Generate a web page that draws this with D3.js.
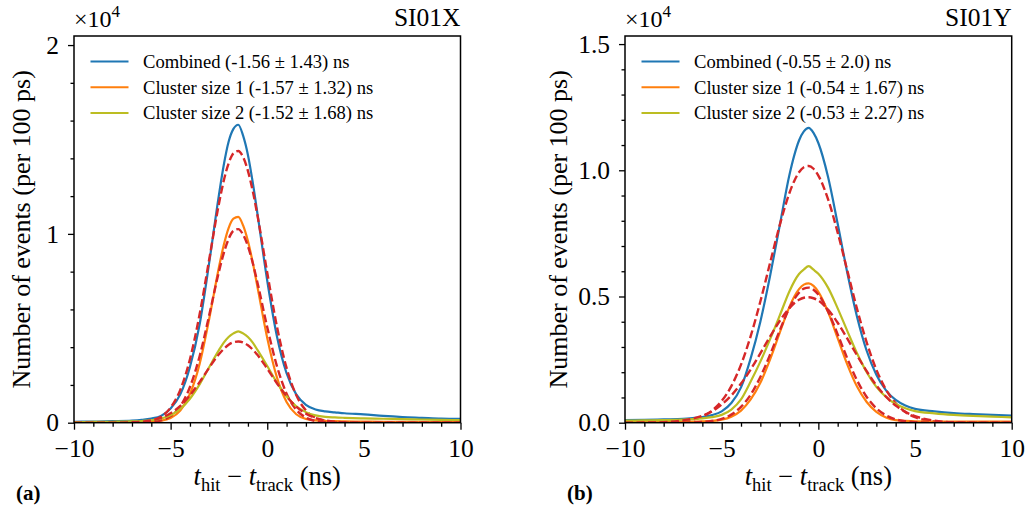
<!DOCTYPE html>
<html><head><meta charset="utf-8">
<script src="https://cdn.jsdelivr.net/npm/d3@7"></script>
<style>
html,body{margin:0;padding:0;background:#fff;}
svg{display:block;font-family:"Liberation Serif","Times New Roman",serif;}
</style></head><body>
<svg id="chart" width="1035" height="512"></svg>
<script>
// ---------- SI01X (panel a) ----------
const timeX = [-10,-9,-8,-7,-6.5,-6,-5.5,-5,-4.5,-4,
  -3.5,-3,-2.5,-2.25,-2,-1.75,-1.5,-1.25,-1,-0.75,
  -0.5,0,0.5,1,1.5,2,2.5,3,3.5,4,
  5,6,7,8,9,10];
const combinedX = [0.005,0.006,0.008,0.011,0.015,0.022,0.036,0.075,0.150,0.295,
  0.520,0.850,1.207,1.365,1.488,1.556,1.578,1.520,1.418,1.272,
  1.102,0.752,0.458,0.262,0.150,0.095,0.070,0.060,0.055,0.050,
  0.044,0.036,0.030,0.026,0.022,0.020];
const cluster1X = [0.002,0.002,0.003,0.004,0.005,0.007,0.011,0.025,0.064,0.152,
  0.311,0.552,0.823,0.941,1.031,1.081,1.090,1.045,0.962,0.848,
  0.716,0.448,0.240,0.110,0.045,0.020,0.012,0.009,0.008,0.007,
  0.006,0.005,0.005,0.004,0.004,0.004];
const cluster2X = [0.003,0.004,0.005,0.007,0.009,0.013,0.022,0.040,0.073,0.127,
  0.203,0.295,0.384,0.424,0.454,0.473,0.484,0.473,0.454,0.424,
  0.384,0.300,0.212,0.140,0.087,0.056,0.039,0.031,0.028,0.026,
  0.023,0.021,0.019,0.017,0.015,0.014];
const fitCombinedX = [0,0,0,0.001,0.004,0.012,0.032,0.080,0.174,0.336,
  0.574,0.867,1.160,1.282,1.373,1.427,1.439,1.407,1.334,1.227,
  1.094,0.794,0.510,0.290,0.146,0.065,0.026,0.009,0.003,0.001,
  0,0,0,0,0,0];
const fitCluster1X = [0,0,0,0,0.001,0.004,0.012,0.035,0.087,0.189,
  0.352,0.571,0.800,0.898,0.973,1.016,1.025,0.996,0.935,0.846,
  0.739,0.506,0.300,0.154,0.069,0.027,0.009,0.003,0.001,0,
  0,0,0,0,0,0];
const fitCluster2X = [0,0,0,0.002,0.005,0.012,0.026,0.050,0.089,0.145,
  0.215,0.292,0.363,0.391,0.413,0.426,0.430,0.425,0.410,0.387,
  0.358,0.286,0.209,0.140,0.085,0.048,0.025,0.012,0.005,0.002,
  0,0,0,0,0,0];
const legendX = ["Combined (-1.56 \u00b1 1.43) ns","Cluster size 1 (-1.57 \u00b1 1.32) ns","Cluster size 2 (-1.52 \u00b1 1.68) ns"];
const yTicksX = [0,1,2];
const yTickLabelsX = ["0","1","2"];
const yMinorX = [0.2,0.4,0.6,0.8,1.2,1.4,1.6,1.8];

// ---------- SI01Y (panel b) ----------
const timeY = [-10,-9,-8,-7,-6.5,-6,-5.5,-5,-4.5,-4,
  -3.5,-3,-2.5,-2,-1.5,-1.25,-1,-0.75,-0.5,-0.25,
  0,0.5,1,1.5,2,2.5,3,3.5,4,4.5,
  5,6,7,8,9,10];
const combinedY = [0.010,0.011,0.013,0.015,0.018,0.022,0.030,0.045,0.078,0.140,
  0.255,0.400,0.580,0.780,0.980,1.058,1.118,1.154,1.168,1.148,
  1.108,0.974,0.788,0.593,0.420,0.285,0.190,0.128,0.090,0.068,
  0.055,0.045,0.038,0.034,0.031,0.028];
const cluster1Y = [0.002,0.002,0.003,0.003,0.004,0.005,0.007,0.012,0.024,0.048,
  0.092,0.158,0.250,0.356,0.458,0.499,0.529,0.547,0.552,0.542,
  0.518,0.439,0.335,0.230,0.143,0.082,0.043,0.021,0.010,0.007,
  0.005,0.004,0.004,0.004,0.004,0.004];
const cluster2Y = [0.008,0.009,0.010,0.012,0.014,0.017,0.022,0.031,0.052,0.092,
  0.163,0.242,0.330,0.424,0.520,0.559,0.589,0.607,0.620,0.606,
  0.590,0.535,0.453,0.363,0.275,0.200,0.142,0.102,0.074,0.057,
  0.046,0.037,0.031,0.027,0.024,0.021];
const fitCombinedY = [0,0,0.001,0.006,0.012,0.025,0.048,0.086,0.145,0.230,
  0.343,0.480,0.632,0.782,0.909,0.957,0.992,1.012,1.017,1.006,
  0.979,0.886,0.753,0.602,0.451,0.318,0.210,0.131,0.077,0.042,
  0.022,0.005,0.001,0,0,0];
const fitCluster1Y = [0,0,0,0,0.001,0.003,0.007,0.015,0.032,0.063,
  0.111,0.181,0.269,0.365,0.454,0.489,0.515,0.531,0.535,0.527,
  0.508,0.441,0.350,0.254,0.168,0.102,0.057,0.029,0.013,0.006,
  0.002,0,0,0,0,0];
const fitCluster2Y = [0,0.0005,0.002,0.009,0.016,0.027,0.045,0.072,0.108,0.155,
  0.211,0.275,0.341,0.403,0.454,0.473,0.487,0.495,0.497,0.493,
  0.484,0.448,0.396,0.333,0.267,0.204,0.148,0.103,0.068,0.043,
  0.026,0.008,0.002,0.0004,0.0001,0];
const legendY = ["Combined (-0.55 \u00b1 2.0) ns","Cluster size 1 (-0.54 \u00b1 1.67) ns","Cluster size 2 (-0.53 \u00b1 2.27) ns"];
const yTicksY = [0,0.5,1,1.5];
const yTickLabelsY = ["0.0","0.5","1.0","1.5"];
const yMinorY = [0.1,0.2,0.3,0.4,0.6,0.7,0.8,0.9,1.1,1.2,1.3,1.4];

// shared
const xTicks = [-10,-5,0,5,10];
const xTickLabels = ["\u221210","\u22125","0","5","10"];
const xMinor = [-9,-8,-7,-6,-4,-3,-2,-1,1,2,3,4,6,7,8,9];
const titles = ["SI01X","SI01Y"];
const panelTags = ["(a)","(b)"];
const seriesColors = ["#1f77b4","#ff7f0e","#bcbd22"];
const fitColor = "#d62728";

const svg = d3.select("#chart");

const panels = [
  {left:74, right:460.5, top:36, bottom:422.7, yMax:2.048, t:timeX,
   data:[combinedX,cluster1X,cluster2X], fits:[fitCombinedX,fitCluster1X,fitCluster2X],
   legend:legendX, yTicks:yTicksX, yLabels:yTickLabelsX, yMinor:yMinorX,
   title:titles[0], tag:panelTags[0], tagX:16, ylabX:30},
  {left:625, right:1011.7, top:36, bottom:422.7, yMax:1.532, t:timeY,
   data:[combinedY,cluster1Y,cluster2Y], fits:[fitCombinedY,fitCluster1Y,fitCluster2Y],
   legend:legendY, yTicks:yTicksY, yLabels:yTickLabelsY, yMinor:yMinorY,
   title:titles[1], tag:panelTags[1], tagX:567, ylabX:567}
];

panels.forEach((p,pi)=>{
  const g = svg.append("g");
  const x = d3.scaleLinear().domain([-10,10]).range([p.left,p.right]);
  const y = d3.scaleLinear().domain([0,p.yMax]).range([p.bottom,p.top]);
  const clipId = "clip"+pi;
  g.append("clipPath").attr("id",clipId).append("rect")
    .attr("x",p.left).attr("y",p.top).attr("width",p.right-p.left).attr("height",p.bottom-p.top);
  const plot = g.append("g").attr("clip-path",`url(#${clipId})`);
  const line = d3.line().x((d)=>x(d[0])).y((d)=>y(d[1])).curve(d3.curveMonotoneX);
  for(let s=0;s<3;s++){
    plot.append("path").datum(p.t.map((t,i)=>[t,p.data[s][i]]))
      .attr("d",line).attr("fill","none").attr("stroke",seriesColors[s]).attr("stroke-width",2.2);
    plot.append("path").datum(p.t.map((t,i)=>[t,p.fits[s][i]]))
      .attr("d",line).attr("fill","none").attr("stroke",fitColor).attr("stroke-width",2.4)
      .attr("stroke-dasharray","8,3.5");
  }
  // axes
  const styleAxis = (a)=>{
    a.attr("font-family",null).attr("font-size",null);
    a.selectAll("path").remove();
    a.selectAll("line").attr("stroke","#000").attr("stroke-width",1.3);
    a.selectAll("text").attr("fill","#000").style("font-size","25.5px");
  };
  g.append("g").attr("transform",`translate(0,${p.bottom})`)
    .call(d3.axisBottom(x).tickValues(xTicks).tickSize(7).tickPadding(9).tickFormat((d,i)=>xTickLabels[i]))
    .call(styleAxis);
  g.append("g").attr("transform",`translate(0,${p.bottom})`)
    .call(d3.axisBottom(x).tickValues(xMinor).tickSize(4).tickFormat(""))
    .call(styleAxis);
  g.append("g").attr("transform",`translate(${p.left},0)`)
    .call(d3.axisLeft(y).tickValues(p.yTicks).tickSize(6).tickPadding(9).tickFormat((d,i)=>p.yLabels[i]))
    .call(styleAxis);
  g.append("g").attr("transform",`translate(${p.left},0)`)
    .call(d3.axisLeft(y).tickValues(p.yMinor).tickSize(3.5).tickFormat(""))
    .call(styleAxis);
  g.append("rect").attr("x",p.left).attr("y",p.top).attr("width",p.right-p.left).attr("height",p.bottom-p.top)
    .attr("fill","none").attr("stroke","#000").attr("stroke-width",1.5);

  // legend
  p.legend.forEach((lab,i)=>{
    const ly = 61.5 + i*25.8;
    g.append("line").attr("x1",p.left+16.5).attr("x2",p.left+54.5).attr("y1",ly).attr("y2",ly)
      .attr("stroke",seriesColors[i]).attr("stroke-width",2);
    g.append("text").attr("x",p.left+69).attr("y",ly+6.3).attr("font-size",18.6).attr("fill","#000").text(lab);
  });

  // title and offset text
  g.append("text").attr("x",p.right).attr("y",26).attr("text-anchor","end").attr("font-size",25.5).text(p.title);
  const off = g.append("text").attr("x",p.left).attr("y",27).attr("font-size",24);
  off.append("tspan").text("\u00d710");
  off.append("tspan").attr("dy",-10).attr("font-size",17).text("4");

  // x label
  const cx = (p.left+p.right)/2;
  const xl = g.append("text").attr("x",cx).attr("y",485).attr("text-anchor","middle").attr("font-size",26.5);
  xl.append("tspan").attr("font-style","italic").text("t");
  xl.append("tspan").attr("dy",6).attr("font-size",18.5).text("hit");
  xl.append("tspan").attr("dy",-6).text(" \u2212 ");
  xl.append("tspan").attr("font-style","italic").text("t");
  xl.append("tspan").attr("dy",6).attr("font-size",18.5).text("track");
  xl.append("tspan").attr("dy",-6).text(" (ns)");

  // y label
  const cy = (p.top+p.bottom)/2;
  g.append("text").attr("transform",`translate(${p.ylabX},${cy}) rotate(-90)`)
    .attr("text-anchor","middle").attr("font-size",26).text("Number of events (per 100 ps)");

  // panel tag
  g.append("text").attr("x",p.tagX).attr("y",500).attr("font-size",21).attr("font-weight","bold").text(p.tag);
});
</script>
</body></html>
